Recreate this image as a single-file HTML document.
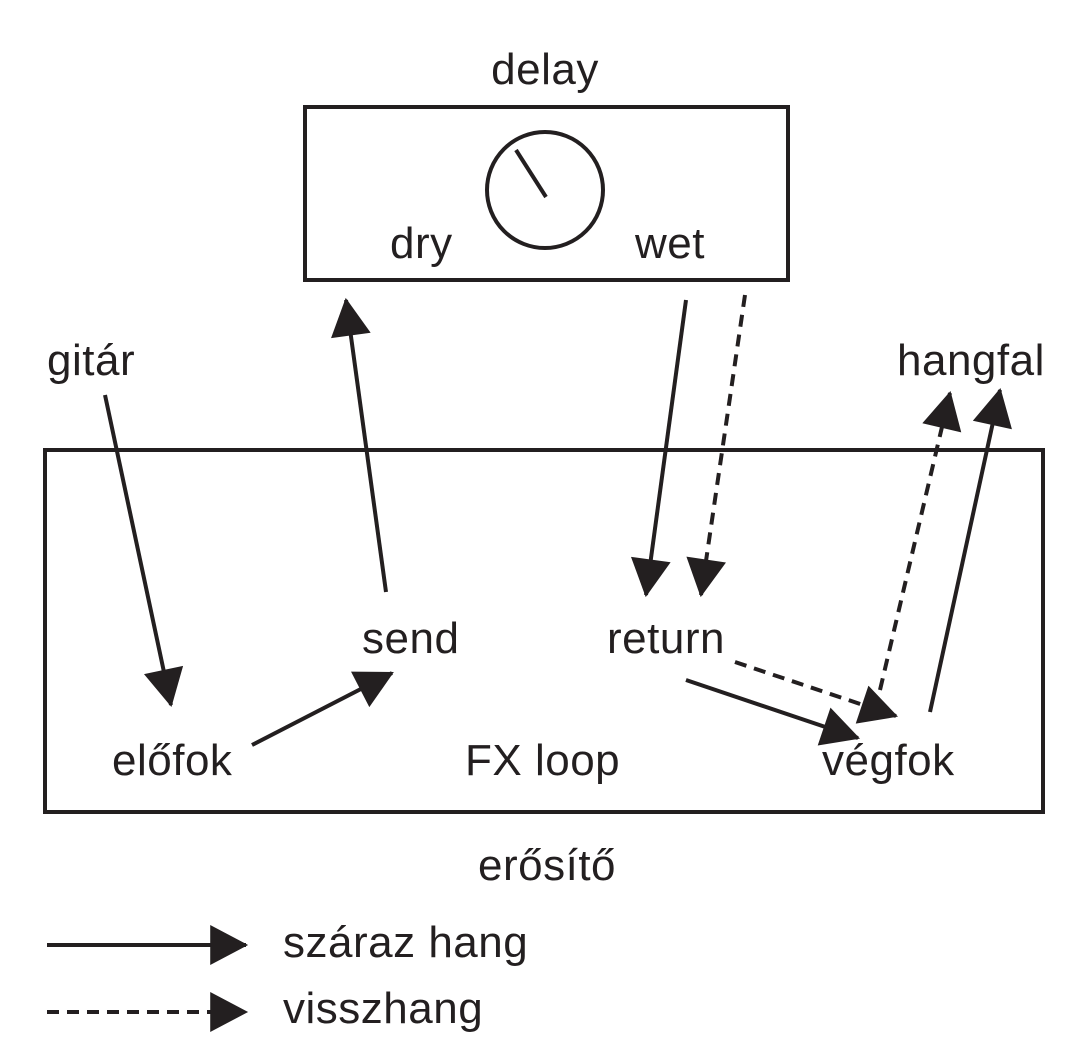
<!DOCTYPE html>
<html><head><meta charset="utf-8"><style>
html,body{margin:0;padding:0;background:#fff}
svg text{font-family:"Liberation Sans",sans-serif;font-size:44px;letter-spacing:0.5px;fill:#231f20}
</style></head><body>
<svg width="1086" height="1056" viewBox="0 0 1086 1056" xmlns="http://www.w3.org/2000/svg">
<defs>
<marker id="a" markerUnits="userSpaceOnUse" markerWidth="40" markerHeight="40" viewBox="0 0 36 38" refX="34" refY="19" orient="auto">
<path d="M0,0 L36,19 L0,38 Z" fill="#231f20"/>
</marker>
</defs>
<g fill="none" stroke="#231f20" stroke-width="4">
<rect x="305" y="107" width="483" height="173"/>
<circle cx="545" cy="190" r="58"/>
<line x1="546" y1="197" x2="516" y2="150"/>
<rect x="45" y="450" width="998" height="362"/>
<line x1="105" y1="395" x2="171" y2="705" marker-end="url(#a)"/>
<line x1="386" y1="592" x2="346" y2="300" marker-end="url(#a)"/>
<line x1="252" y1="745" x2="392" y2="673" marker-end="url(#a)"/>
<line x1="686" y1="300" x2="646" y2="595" marker-end="url(#a)"/>
<line x1="745" y1="295" x2="701" y2="595" stroke-dasharray="12,8" marker-end="url(#a)"/>
<line x1="686" y1="680" x2="858" y2="738" marker-end="url(#a)"/>
<line x1="735" y1="662" x2="896" y2="716" stroke-dasharray="12,8" marker-end="url(#a)"/>
<line x1="880" y1="690" x2="950" y2="393" stroke-dasharray="12,8" marker-end="url(#a)"/>
<line x1="930" y1="712" x2="1000" y2="390" marker-end="url(#a)"/>
<line x1="47" y1="945" x2="246" y2="945" marker-end="url(#a)"/>
<line x1="47" y1="1012" x2="246" y2="1012" stroke-dasharray="12,8" marker-end="url(#a)"/>
</g>
<text x="545" y="84" text-anchor="middle">delay</text>
<text x="390" y="258">dry</text>
<text x="635" y="258">wet</text>
<text x="47" y="375">gitár</text>
<text x="897" y="375">hangfal</text>
<text x="362" y="653">send</text>
<text x="607" y="653">return</text>
<text x="112" y="775">előfok</text>
<text x="465" y="775">FX loop</text>
<text x="822" y="775">végfok</text>
<text x="478" y="880">erősítő</text>
<text x="283" y="957">száraz hang</text>
<text x="283" y="1023">visszhang</text>
</svg>
</body></html>
